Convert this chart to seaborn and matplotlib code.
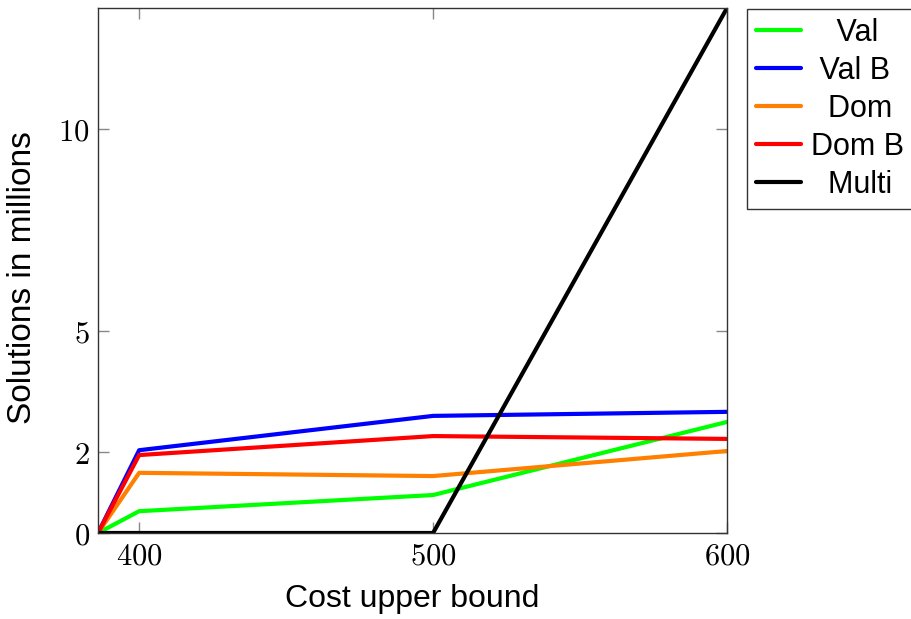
import matplotlib
matplotlib.use('Agg')
import matplotlib.pyplot as plt
from matplotlib.ticker import FuncFormatter
import seaborn as sns
import pandas as pd

### Data
cost = [386, 400, 500, 600]
val = [0.0, 0.54, 0.94, 2.75]
val_b = [0.0, 2.05, 2.9, 3.0]
dom = [0.0, 1.49, 1.41, 2.03]
dom_b = [0.0, 1.93, 2.4, 2.33]
multi = [0.0, 0.0, 0.0, 13.0]
series = ['Val', 'Val B', 'Dom', 'Dom B', 'Multi']
colors = ['#00ff00', '#0000ff', '#ff8000', '#ff0000', '#000000']
xticks = [400, 500, 600]
yticks = [0, 2, 5, 10]

df = pd.concat([
    pd.DataFrame({'cost': cost, 'solutions': vals, 'method': name})
    for name, vals in zip(series, [val, val_b, dom, dom_b, multi])
])

sns.set_style('white')
plt.rcParams['font.family'] = ['Liberation Sans', 'DejaVu Sans']
plt.rcParams['mathtext.fontset'] = 'cm'
plt.rcParams['text.color'] = 'black'
plt.rcParams['axes.labelcolor'] = 'black'
plt.rcParams['xtick.labelcolor'] = 'black'
plt.rcParams['ytick.labelcolor'] = 'black'

fig = plt.figure(figsize=(9.12, 6.19), dpi=100)
ax = fig.add_axes([98 / 912, 1 - 533 / 619, (727 - 98) / 912, (533 - 8) / 619])

sns.lineplot(data=df, x='cost', y='solutions', hue='method', hue_order=series,
             palette=colors, linewidth=3, ax=ax, legend=True)

ax.set_xlim(cost[0], 600)
ax.set_ylim(0, 13)
ax.set_xticks(xticks)
ax.set_yticks(yticks)
fmt = FuncFormatter(lambda v, pos: r'$%d$' % v)
ax.xaxis.set_major_formatter(fmt)
ax.yaxis.set_major_formatter(fmt)
ax.tick_params(direction='in', length=8, width=1, color='#888888', labelsize=22,
               labelcolor='black', top=True, right=True, bottom=True, left=True, pad=6)
for s in ax.spines.values():
    s.set_color('#333333')
    s.set_linewidth(1)

ax.set_xlabel('Cost upper bound', fontsize=23, labelpad=9, color='black')
ax.set_ylabel('Solutions in millions', fontsize=24, labelpad=13, color='black')
ax.yaxis.set_label_coords(-0.096, 0.487)

handles, labels = ax.get_legend_handles_labels()
# leading spaces roughly centre the labels like the original
pads = {'Val': '   ', 'Val B': ' ', 'Dom': '  ', 'Dom B': '', 'Multi': '  '}
labels = [pads[l] + l for l in labels]
leg = ax.legend(handles, labels, loc='upper left', bbox_to_anchor=(747 / 912, 1 - 9 / 619),
                bbox_transform=fig.transFigure, borderaxespad=0, fontsize=22,
                frameon=True, fancybox=False, edgecolor='#333333', framealpha=1,
                handlelength=1.48, handletextpad=0.3, labelspacing=0.26, borderpad=0.3)
leg.get_frame().set_linewidth(1)
for line in leg.get_lines():
    line.set_linewidth(3)
for t in leg.get_texts():
    t.set_color('black')

fig.savefig('out.png', dpi=100)
